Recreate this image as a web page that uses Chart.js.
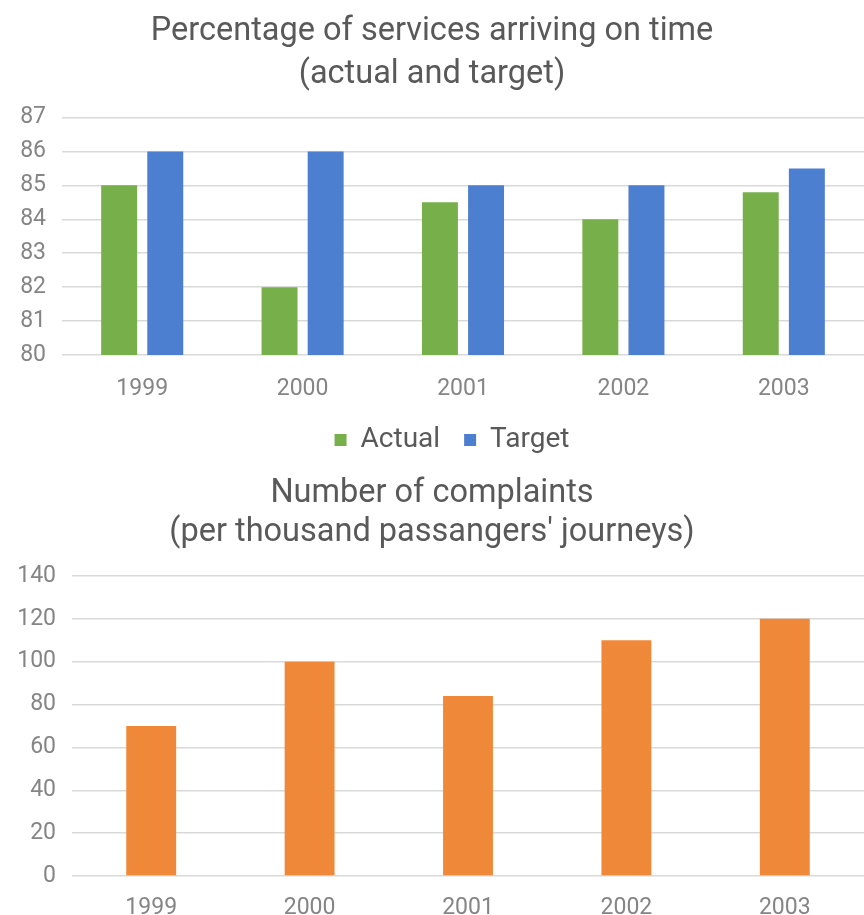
<!DOCTYPE html>
<html>
<head>
<meta charset="utf-8">
<script src="https://cdn.jsdelivr.net/npm/chart.js@4"></script>
<style>
  body { margin: 0; background: #fff; overflow: hidden; }
  .box { position: absolute; left: 0; width: 864px; }
  #top { top: 0; height: 464px; }
  #bottom { top: 460px; height: 460px; }
</style>
</head>
<body>
<div class="box" id="top"><canvas id="onTimeChart"></canvas></div>
<div class="box" id="bottom"><canvas id="complaintsChart"></canvas></div>
<script>
// Dane
const years = ['1999', '2000', '2001', '2002', '2003'];
const actual = [85, 82, 84.5, 84, 84.8];
const target = [86, 86, 85, 85, 85.5];
const complaints = [70, 100, 84, 110, 120];

Chart.defaults.font.family = 'Roboto, "Noto Sans", sans-serif';
Chart.defaults.animation = false;

const titleColor = '#595959';
const tickColor = '#858585';
const gridColor = '#d9d9d9';

// przesuniecie legendy w prawo (jak w oryginale)
const legendShift = {
    id: 'legendShift',
    afterLayout: function(chart) {
        if (chart.legend) {
            chart.legend.left += 20;
            chart.legend.right += 20;
        }
    }
};

// Wykres 1 - punktualnosc
new Chart(document.getElementById('onTimeChart'), {
    type: 'bar',
    data: {
        labels: years,
        datasets: [{
            label: 'Actual',
            data: actual,
            backgroundColor: '#77b04a',
            borderWidth: 0
        }, {
            label: 'Target',
            data: target,
            backgroundColor: '#4d7fd0',
            borderWidth: 0
        }]
    },
    plugins: [legendShift],
    options: {
        responsive: true,
        maintainAspectRatio: false,
        categoryPercentage: 0.575,
        barPercentage: 0.78,
        layout: { padding: 0 },
        plugins: {
            title: {
                display: true,
                text: ['Percentage of services arriving on time', '(actual and target)'],
                color: titleColor,
                font: { size: 32.5, weight: 'normal', lineHeight: 1.3 },
                padding: { top: 11, bottom: 22 }
            },
            legend: {
                position: 'bottom',
                labels: {
                    color: titleColor,
                    font: { size: 28 },
                    boxWidth: 12,
                    boxHeight: 12,
                    padding: 24
                }
            },
            tooltip: { enabled: false }
        },
        scales: {
            x: {
                grid: { display: false },
                border: { display: false },
                ticks: { color: tickColor, font: { size: 23 }, padding: 12 },
                afterFit: function(scale) { scale.height = 47; }
            },
            y: {
                min: 80,
                max: 87,
                ticks: { stepSize: 1, color: tickColor, font: { size: 23 }, padding: 16 },
                grid: { color: gridColor, lineWidth: 1.5, drawTicks: false },
                border: { display: false },
                afterFit: function(scale) { scale.width = 62; }
            }
        }
    }
});

// Wykres 2 - skargi
new Chart(document.getElementById('complaintsChart'), {
    type: 'bar',
    data: {
        labels: years,
        datasets: [{
            label: 'Complaints',
            data: complaints,
            backgroundColor: '#f0883a',
            borderWidth: 0
        }]
    },
    options: {
        responsive: true,
        maintainAspectRatio: false,
        categoryPercentage: 1,
        barPercentage: 0.315,
        layout: { padding: 0 },
        plugins: {
            title: {
                display: true,
                text: ['Number of complaints', "(per thousand passangers' journeys)"],
                color: titleColor,
                font: { size: 32.5, weight: 'normal', lineHeight: 1.2 },
                padding: { top: 14, bottom: 24 }
            },
            legend: { display: false },
            tooltip: { enabled: false }
        },
        scales: {
            x: {
                grid: { display: false },
                border: { display: false },
                ticks: { color: tickColor, font: { size: 23 }, padding: 10 },
                afterFit: function(scale) { scale.height = 44; }
            },
            y: {
                min: 0,
                max: 140,
                ticks: { stepSize: 20, color: tickColor, font: { size: 23 }, padding: 16 },
                grid: { color: gridColor, lineWidth: 1.5, drawTicks: false },
                border: { display: false },
                afterFit: function(scale) { scale.width = 72; }
            }
        }
    }
});
</script>
</body>
</html>
